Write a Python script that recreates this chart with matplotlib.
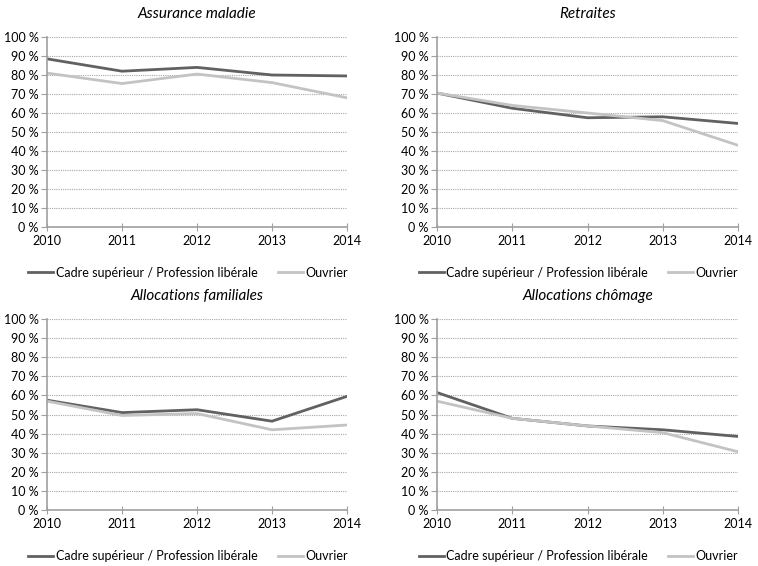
import matplotlib.pyplot as plt
from matplotlib.ticker import FuncFormatter

plt.rcParams['font.family'] = ['Lato', 'DejaVu Sans']

years = [2010, 2011, 2012, 2013, 2014]
titles = ['Assurance maladie', 'Retraites', 'Allocations familiales', 'Allocations chômage']
series_names = ['Cadre supérieur / Profession libérale', 'Ouvrier']

# valeurs (en %)
cadre_maladie = [88.5, 82, 84, 80, 79.5]
ouvrier_maladie = [81, 75.5, 80.5, 76, 68]
cadre_retraites = [70.5, 62.5, 57.5, 58, 54.5]
ouvrier_retraites = [70.5, 64, 60, 56, 43]
cadre_familiales = [57.5, 51, 52.5, 46.5, 59.5]
ouvrier_familiales = [57, 49.5, 50.5, 42, 44.5]
cadre_chomage = [61.5, 48, 44, 42, 38.5]
ouvrier_chomage = [57, 48, 44, 40.5, 30.5]

data = [
    (cadre_maladie, ouvrier_maladie),
    (cadre_retraites, ouvrier_retraites),
    (cadre_familiales, ouvrier_familiales),
    (cadre_chomage, ouvrier_chomage),
]

dark = '#616161'
light = '#c3c3c3'
W, H = 758, 566

fig = plt.figure(figsize=(W / 100, H / 100), dpi=100)

# positions des axes en pixels : (gauche, droite, haut, bas)
boxes = [(47, 347, 37, 227), (437, 738, 37, 227),
         (47, 347, 319, 510), (437, 738, 319, 510)]

for (l, r, t, b), title, (cadre, ouvrier) in zip(boxes, titles, data):
    ax = fig.add_axes([l / W, 1 - b / H, (r - l) / W, (b - t) / H])
    ax.plot(years, cadre, color=dark, lw=2, label=series_names[0])
    ax.plot(years, ouvrier, color=light, lw=2, label=series_names[1])
    ax.set_xlim(2010, 2014)
    ax.set_ylim(0, 100)
    ax.set_xticks(years)
    ax.set_yticks(range(0, 101, 10))
    ax.yaxis.set_major_formatter(FuncFormatter(lambda v, p: f'{int(v)} %'))
    ax.grid(axis='y', color='#a8a8a8', linestyle=(0, (1, 1)), lw=0.8)
    ax.set_axisbelow(True)
    for s in ['top', 'right']:
        ax.spines[s].set_visible(False)
    for s in ['left', 'bottom']:
        ax.spines[s].set_color('#a0a0a0')
        ax.spines[s].set_linewidth(1.2)
    ax.tick_params(axis='x', direction='inout', length=6, color='#a0a0a0', labelsize=9, pad=3)
    ax.tick_params(axis='y', direction='out', length=4, color='#a0a0a0', labelsize=9, pad=2)
    ax.set_title(title, style='italic', fontsize=11, pad=14)
    ax.legend(loc='upper center', bbox_to_anchor=(0.47, -0.15), ncol=2, frameon=False,
              fontsize=9, handlelength=2.0, handletextpad=0.2, columnspacing=1.6)

fig.savefig('out.png', dpi=100)
